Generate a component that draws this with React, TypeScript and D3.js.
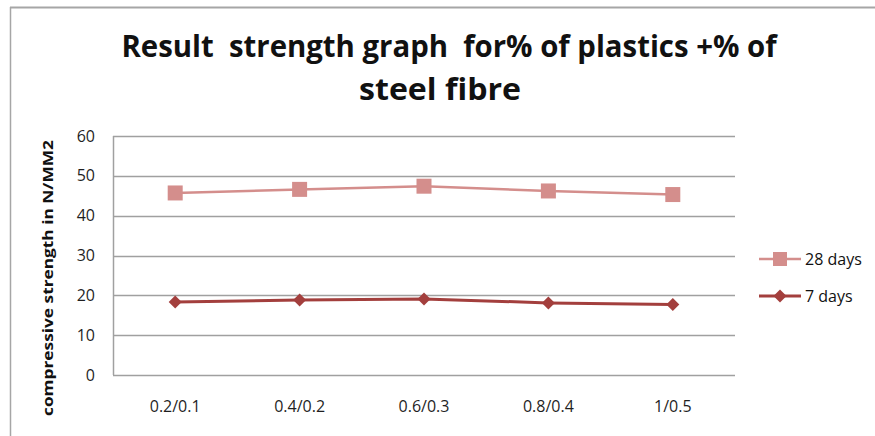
import React from "react";
import * as d3 from "d3";

const categories = ["0.2/0.1", "0.4/0.2", "0.6/0.3", "0.8/0.4", "1/0.5"];
const days28 = [45.7, 46.6, 47.4, 46.2, 45.3];
const days7 = [18.3, 18.8, 19.1, 18.1, 17.7];
const yTicks = [0, 10, 20, 30, 40, 50, 60];
const seriesNames = ["28 days", "7 days"];

const W = 875;
const H = 436;
const plot = { left: 113, right: 735, top: 136, bottom: 375 };
const FONT = "'Open Sans', 'Liberation Sans', sans-serif";
const LIGHT = "#d48e8c";
const DARK = "#a33f3d";

export default function App() {
  const x = d3
    .scaleBand<string>()
    .domain(categories)
    .range([plot.left, plot.right])
    .padding(0);
  const y = d3.scaleLinear().domain([0, 60]).range([plot.bottom, plot.top]);
  const cx = (c: string) => (x(c) as number) + x.bandwidth() / 2;

  const line = d3
    .line<number>()
    .x((_, i) => cx(categories[i]))
    .y((d) => y(d));

  const diamond = (px: number, py: number, r: number) =>
    `M${px},${py - r}L${px + r},${py}L${px},${py + r}L${px - r},${py}Z`;

  return (
    <svg
      width={W}
      height={H}
      style={{ position: "absolute", left: 0, top: 0, background: "#fff" }}
      fontFamily={FONT}
    >
      {/* outer chart frame */}
      <line x1={10} y1={7.5} x2={W} y2={7.5} stroke="#a6a6a6" strokeWidth={2} />
      <line x1={10.5} y1={7} x2={10.5} y2={H} stroke="#a6a6a6" strokeWidth={1.5} />

      {/* title */}
      <text
        x={449}
        y={57}
        textAnchor="middle"
        fontSize={30}
        fontWeight="bold"
        fill="#111"
        textLength={655}
        lengthAdjust="spacingAndGlyphs"
        style={{ whiteSpace: "pre" }}
      >
        {"Result  strength graph  for% of plastics +% of"}
      </text>
      <text
        x={440}
        y={100}
        textAnchor="middle"
        fontSize={30}
        fontWeight="bold"
        fill="#111"
        textLength={162}
        lengthAdjust="spacingAndGlyphs"
      >
        steel fibre
      </text>

      {/* gridlines */}
      {yTicks.map((t) => (
        <line
          key={t}
          x1={plot.left}
          x2={plot.right}
          y1={Math.round(y(t)) + 0.5}
          y2={Math.round(y(t)) + 0.5}
          stroke="#a0a0a0"
          strokeWidth={1.5}
        />
      ))}
      <line
        x1={plot.left + 0.5}
        x2={plot.left + 0.5}
        y1={plot.top}
        y2={plot.bottom}
        stroke="#a0a0a0"
        strokeWidth={1.5}
      />

      {/* y tick labels */}
      {yTicks.map((t) => (
        <text
          key={t}
          x={95}
          y={y(t) + 5.5}
          textAnchor="end"
          fontSize={16}
          fill="#1f1f1f"
        >
          {t}
        </text>
      ))}

      {/* x tick labels */}
      {categories.map((c) => (
        <text
          key={c}
          x={cx(c)}
          y={412}
          textAnchor="middle"
          fontSize={16}
          fill="#1f1f1f"
        >
          {c}
        </text>
      ))}

      {/* y axis title */}
      <text
        transform={`translate(53,${278}) rotate(-90)`}
        textAnchor="middle"
        fontSize={14}
        fontWeight="bold"
        fill="#111"
        textLength={276}
        lengthAdjust="spacingAndGlyphs"
      >
        compressive strength in N/MM2
      </text>

      {/* series */}
      <path d={line(days28) || ""} fill="none" stroke={LIGHT} strokeWidth={2.5} />
      {days28.map((v, i) => (
        <rect
          key={i}
          x={cx(categories[i]) - 7.5}
          y={y(v) - 7.5}
          width={15}
          height={15}
          fill={LIGHT}
        />
      ))}
      <path d={line(days7) || ""} fill="none" stroke={DARK} strokeWidth={3} />
      {days7.map((v, i) => (
        <path key={i} d={diamond(cx(categories[i]), y(v), 6.5)} fill={DARK} />
      ))}

      {/* legend */}
      {seriesNames.map((name, i) => {
        const ly = i === 0 ? 259 : 296;
        const color = i === 0 ? LIGHT : DARK;
        return (
          <g key={name}>
            <line
              x1={759}
              x2={801}
              y1={ly}
              y2={ly}
              stroke={color}
              strokeWidth={i === 0 ? 2.5 : 3}
            />
            {i === 0 ? (
              <rect x={773} y={ly - 7} width={14} height={14} fill={color} />
            ) : (
              <path d={diamond(780, ly, 6.5)} fill={color} />
            )}
            <text x={805} y={ly + 5.5} fontSize={16} fill="#111">
              {name}
            </text>
          </g>
        );
      })}
    </svg>
  );
}
